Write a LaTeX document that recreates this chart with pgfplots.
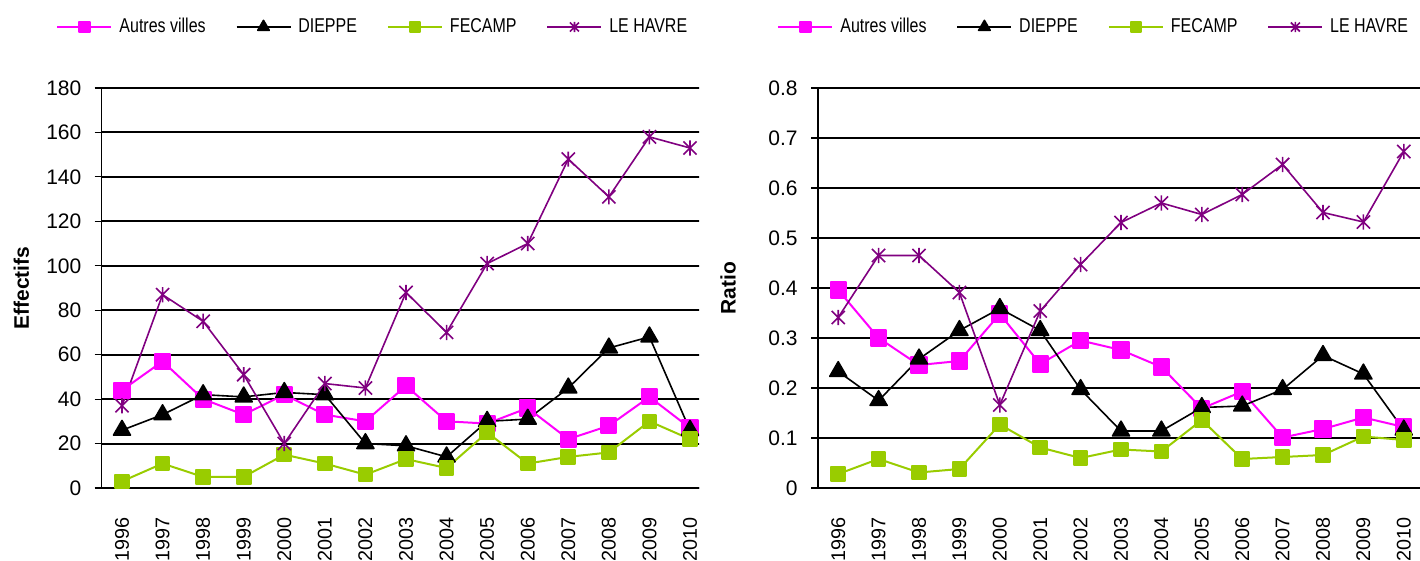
\documentclass[border=0pt]{standalone}
\usepackage{pgfplots}
\pgfplotsset{compat=1.18}
\usepackage{pgfplotstable}
\usepackage{fontspec}
\setmainfont{Liberation Sans}
\newfontfamily\legfont[FakeStretch=0.8]{Liberation Sans}

\definecolor{cautres}{HTML}{FF00FF}
\definecolor{cfecamp}{HTML}{99CC00}
\definecolor{chavre}{HTML}{800080}

% Excel-like star: an X crossed by a vertical bar
\pgfdeclareplotmark{xstar}{%
  \pgfpathmoveto{\pgfpoint{-\pgfplotmarksize}{-\pgfplotmarksize}}%
  \pgfpathlineto{\pgfpoint{\pgfplotmarksize}{\pgfplotmarksize}}%
  \pgfpathmoveto{\pgfpoint{-\pgfplotmarksize}{\pgfplotmarksize}}%
  \pgfpathlineto{\pgfpoint{\pgfplotmarksize}{-\pgfplotmarksize}}%
  \pgfpathmoveto{\pgfpoint{0pt}{-1.15\pgfplotmarksize}}%
  \pgfpathlineto{\pgfpoint{0pt}{1.15\pgfplotmarksize}}%
  \pgfusepathqstroke}

% effectifs par ville
\pgfplotstableread{
x  av  di  fe  lh
0  44  26  3   37
1  57  33  11  87
2  40  42  5   75
3  33  41  5   51
4  42  43  15  20
5  33  42  11  47
6  30  20  6   45
7  46  19  13  88
8  30  14  9   70
9  29  30  25  101
10 36  31  11  110
11 22  45  14  148
12 28  63  16  131
13 41  68  30  158
14 27  26  22  153
}\effectifs

% ratio par ville
\pgfplotstableread{
x  av     di     fe     lh
0  0.396  0.233  0.028  0.341
1  0.300  0.175  0.058  0.465
2  0.246  0.258  0.031  0.465
3  0.254  0.315  0.038  0.391
4  0.348  0.359  0.127  0.166
5  0.248  0.315  0.081  0.354
6  0.295  0.197  0.060  0.447
7  0.276  0.114  0.077  0.531
8  0.242  0.114  0.073  0.570
9  0.159  0.161  0.136  0.547
10 0.193  0.164  0.058  0.587
11 0.101  0.197  0.062  0.647
12 0.118  0.265  0.066  0.551
13 0.141  0.228  0.103  0.532
14 0.122  0.116  0.096  0.673
}\ratios

\pgfplotsset{
  villes/.style={
    scale only axis, height=200bp,
    anchor=south west,
    xmin=-0.5, xmax=14.5,
    xtick={0,...,14},
    xticklabels={1996,1997,1998,1999,2000,2001,2002,2003,2004,2005,2006,2007,2008,2009,2010},
    minor xtick={-0.5,0.5,...,14.5},
    xtick style={draw=none},
    tick align=outside,
    major tick length=3.5bp, minor tick length=3.5bp,
    tick style={black, line width=0.6bp},
    axis x line*=bottom, axis y line*=left,
    axis line style={black, line width=0.6bp, -},
    ymajorgrids, major grid style={black, line width=1bp},
    /pgf/number format/assume math mode=true,
    ticklabel style={font=\fontsize{10.5bp}{12bp}\selectfont},
    xticklabel style={rotate=90, anchor=east, inner sep=0pt, font=\fontsize{9.9bp}{11bp}\selectfont},
    xticklabel shift=11bp,
    yticklabel style={inner sep=0pt},
    yticklabel shift=6.5bp,
    ylabel style={anchor=center, font=\bfseries\fontsize{10.5bp}{12bp}\selectfont},
    legend columns=4,
    legend style={draw=none, fill=none, inner sep=0pt, anchor=west,
      font=\legfont\fontsize{10bp}{12bp}\selectfont,
      nodes={inner sep=0pt},
      /tikz/every odd column/.append style={column sep=3.5bp},
      /tikz/every even column/.append style={column sep=15bp}},
    legend image code/.code={\draw[mark repeat=2,mark phase=2,#1,every mark/.append style={scale=0.68}] plot coordinates {(0bp,0bp) (13.5bp,0bp) (27bp,0bp)};},
    every axis plot/.append style={line join=round},
  },
  sav/.style={color=cautres, line width=1bp, mark=square*, mark size=3.8bp},
  sdi/.style={color=black, line width=0.8bp, mark=triangle*, mark size=4.9bp},
  sfe/.style={color=cfecamp, line width=1bp, mark=square*, mark size=3.4bp},
  slh/.style={color=chavre, line width=0.8bp, mark=xstar, mark size=3.3bp, mark options={line width=0.8bp}},
}

\begin{document}
\begin{tikzpicture}
\useasboundingbox (0,0) rectangle (710bp,280.5bp);

\begin{scope}
\clip (0,0) rectangle (349.5bp,280.5bp);
\begin{axis}[villes,
  at={(50.85bp,36.5bp)}, width=304.3bp,
  ymin=0, ymax=180, ytick={0,20,...,180},
  ylabel={Effectifs},
  ylabel style={at={(rel axis cs:-0.132,0.5)}},
  legend style={at={(rel axis cs:-0.075,1.1525)}},
]
\addplot[sav] table[x=x,y=av] {\effectifs};
\addlegendentry{Autres villes}
\addplot[sdi] table[x=x,y=di] {\effectifs};
\addlegendentry{DIEPPE}
\addplot[sfe] table[x=x,y=fe] {\effectifs};
\addlegendentry{FECAMP}
\addplot[slh] table[x=x,y=lh] {\effectifs};
\addlegendentry{LE HAVRE}
\end{axis}
\end{scope}

\begin{scope}
\clip (349.5bp,0) rectangle (710bp,280.5bp);
\begin{axis}[villes,
  at={(409bp,36.5bp)}, width=303bp,
  ymin=0, ymax=0.8, ytick={0,0.1,...,0.8},
  yticklabels={0,0.1,0.2,0.3,0.4,0.5,0.6,0.7,0.8},
  ylabel={Ratio},
  ylabel style={at={(rel axis cs:-0.1485,0.5)}},
  legend style={at={(rel axis cs:-0.0677,1.1525)}},
]
\addplot[sav] table[x=x,y=av] {\ratios};
\addlegendentry{Autres villes}
\addplot[sdi] table[x=x,y=di] {\ratios};
\addlegendentry{DIEPPE}
\addplot[sfe] table[x=x,y=fe] {\ratios};
\addlegendentry{FECAMP}
\addplot[slh] table[x=x,y=lh] {\ratios};
\addlegendentry{LE HAVRE}
\end{axis}
\end{scope}
\end{tikzpicture}
\end{document}
